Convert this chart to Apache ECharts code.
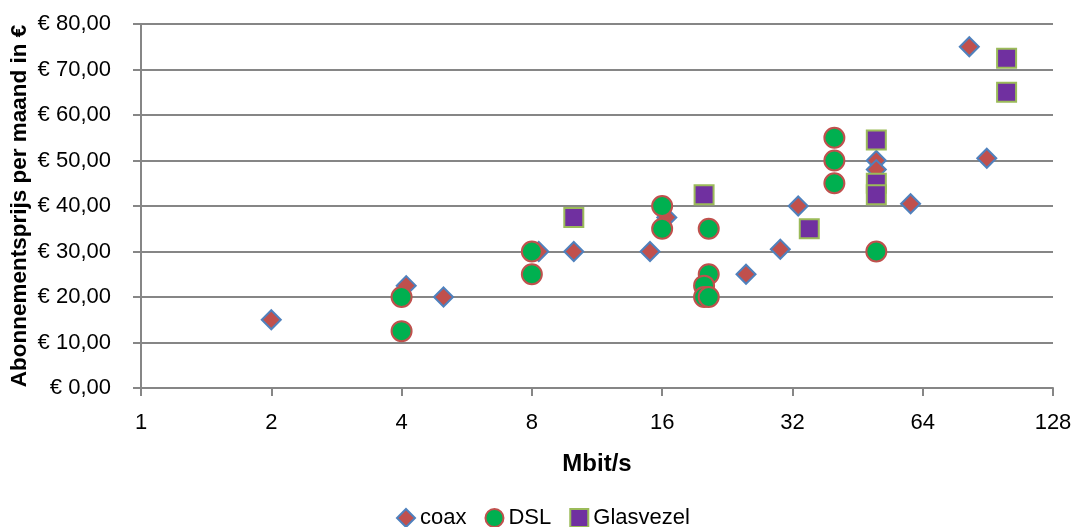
<!DOCTYPE html>
<html><head><meta charset="utf-8">
<script src="https://cdn.jsdelivr.net/npm/echarts@6/dist/echarts.min.js"></script>
<style>html,body{margin:0;padding:0;background:#fff}#c{width:1075px;height:527px}</style>
</head><body><div id="c"></div>
<script>
const seriesNames = ['coax', 'DSL', 'Glasvezel'];
const coaxX = [2, 4.1, 5, 8.3, 10, 15, 16.4, 25, 30, 33, 50, 50, 60, 82, 90];
const coaxY = [15, 22.5, 20, 30, 30, 30, 37.5, 25, 30.5, 40, 50, 48, 40.5, 75, 50.5];
const dslX = [4, 4, 8, 8, 16, 16, 20.5, 20.5, 20, 20, 20.5, 40, 40, 40, 50];
const dslY = [20, 12.5, 30, 25, 40, 35, 35, 25, 22.5, 20, 20, 55, 50, 45, 30];
const glasX = [10, 20, 35, 50, 50, 50, 100, 100];
const glasY = [37.5, 42.5, 35, 54.5, 45, 42.5, 72.5, 65];
const yTicks = [0, 10, 20, 30, 40, 50, 60, 70, 80];

const pair = (xs, ys) => xs.map((x, i) => [x, ys[i]]);
const font = 'Liberation Sans';
const grey = '#868686';

const chart = echarts.init(document.getElementById('c'));
chart.setOption({
  animation: false,
  textStyle: { fontFamily: font },
  grid: { left: 141, right: 22, top: 24, bottom: 139, containLabel: false, outerBoundsMode: 'none' },
  xAxis: {
    type: 'log', logBase: 2, min: 1, max: 128,
    name: 'Mbit/s', nameLocation: 'middle', nameGap: 64, nameMoveOverlap: false,
    nameTextStyle: { fontSize: 24, fontWeight: 'bold', color: '#000', fontFamily: font },
    axisLine: { show: true, lineStyle: { color: grey, width: 2 } },
    axisTick: { show: true, inside: false, length: 8, lineStyle: { color: grey, width: 2 } },
    axisLabel: { fontSize: 22, color: '#000', margin: 24, fontFamily: font },
    splitLine: { show: false },
    minorTick: { show: false }
  },
  yAxis: {
    type: 'value', min: yTicks[0], max: yTicks[yTicks.length - 1], interval: 10,
    name: 'Abonnementsprijs per maand in €', nameLocation: 'middle', nameGap: 110, nameMoveOverlap: false,
    nameTextStyle: { fontSize: 22.5, fontWeight: 'bold', color: '#000', fontFamily: font },
    axisLine: { show: true, lineStyle: { color: grey, width: 2 } },
    axisTick: { show: true, length: 8, lineStyle: { color: grey, width: 2 } },
    axisLabel: {
      fontSize: 22, color: '#000', margin: 30, fontFamily: font,
      formatter: v => '€ ' + v.toFixed(2).replace('.', ',')
    },
    splitLine: { show: true, lineStyle: { color: grey, width: 2 } }
  },
  legend: {
    top: 502, left: 391, itemGap: 18, itemWidth: 18, itemHeight: 18,
    textStyle: { fontSize: 22, color: '#000', fontFamily: font },
    data: seriesNames
  },
  series: [
    {
      name: seriesNames[0], type: 'scatter', symbol: 'diamond', symbolSize: 19,
      itemStyle: { color: '#C0504D', borderColor: '#4F81BD', borderWidth: 2, opacity: 1 },
      data: pair(coaxX, coaxY)
    },
    {
      name: seriesNames[1], type: 'scatter', symbol: 'circle', symbolSize: 20,
      itemStyle: { color: '#00B050', borderColor: '#C0504D', borderWidth: 2, opacity: 1 },
      data: pair(dslX, dslY)
    },
    {
      name: seriesNames[2], type: 'scatter', symbol: 'rect', symbolSize: 19,
      itemStyle: { color: '#7030A0', borderColor: '#9BBB59', borderWidth: 2, opacity: 1 },
      data: pair(glasX, glasY)
    }
  ]
});
</script></body></html>
